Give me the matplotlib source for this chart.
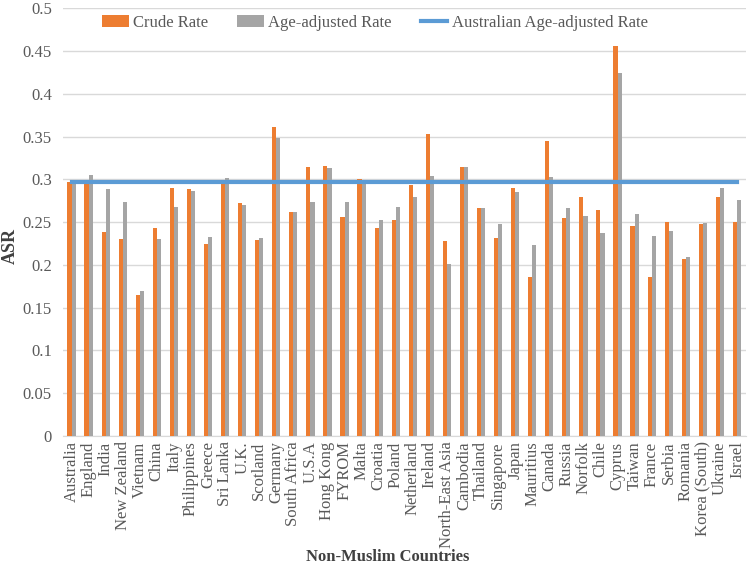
import matplotlib.pyplot as plt
import numpy as np

countries = ["Australia", "England", "India", "New Zealand", "Vietnam", "China", "Italy",
             "Philippines", "Greece", "Sri Lanka", "U.K.", "Scotland", "Germany",
             "South Africa", "U.S.A", "Hong Kong", "FYROM", "Malta", "Croatia", "Poland",
             "Netherland", "Ireland", "North-East Asia", "Cambodia", "Thailand", "Singapore",
             "Japan", "Mauritius", "Canada", "Russia", "Norfolk", "Chile", "Cyprus", "Taiwan",
             "France", "Serbia", "Romania", "Korea (South)", "Ukraine", "Israel"]
crude = [0.297, 0.297, 0.239, 0.230, 0.165, 0.243, 0.290, 0.289, 0.224, 0.297,
         0.272, 0.229, 0.361, 0.262, 0.314, 0.316, 0.256, 0.300, 0.243, 0.252,
         0.294, 0.353, 0.228, 0.315, 0.266, 0.232, 0.290, 0.186, 0.345, 0.255,
         0.280, 0.264, 0.456, 0.245, 0.186, 0.250, 0.207, 0.248, 0.280, 0.250]
adjusted = [0.297, 0.305, 0.289, 0.274, 0.170, 0.230, 0.268, 0.287, 0.233, 0.302,
            0.270, 0.231, 0.349, 0.262, 0.273, 0.313, 0.274, 0.298, 0.253, 0.268,
            0.280, 0.304, 0.201, 0.315, 0.266, 0.248, 0.285, 0.223, 0.303, 0.266,
            0.257, 0.237, 0.424, 0.260, 0.234, 0.240, 0.209, 0.249, 0.290, 0.276]
aus_rate = 0.297

plt.rcParams['font.family'] = ['Liberation Serif', 'DejaVu Serif']

fig = plt.figure(figsize=(7.5, 5.66), dpi=100)
ax = fig.add_axes([0.084, 0.23, 0.91, 0.755])

x = np.arange(len(countries))
w = 0.24
b1 = ax.bar(x - w / 2, crude, w, color='#ED7D31', label='Crude Rate', zorder=3)
b2 = ax.bar(x + w / 2, adjusted, w, color='#A5A5A5', label='Age-adjusted Rate', zorder=3)
l1, = ax.plot(x, [aus_rate] * len(x), color='#5B9BD5', linewidth=3,
              label='Australian Age-adjusted Rate', zorder=4)

ax.set_xlim(-0.5, len(countries) - 0.5)
ax.set_ylim(0, 0.5)
ax.set_yticks(np.arange(0, 0.51, 0.05))
ax.set_yticklabels(['0'] + [f"{v:g}" for v in np.arange(0.05, 0.51, 0.05).round(2)])
ax.set_xticks(x)
ax.set_xticklabels(countries, rotation=90)
ax.tick_params(axis='both', colors='#595959', labelsize=12, length=0)
ax.tick_params(axis='x', pad=4)
ax.tick_params(axis='y', pad=8)
ax.grid(axis='y', color='#D9D9D9', linewidth=1, zorder=0)
for s in ['left', 'right', 'top']:
    ax.spines[s].set_visible(False)
ax.spines['bottom'].set_color('#D9D9D9')

ax.set_ylabel('ASR', fontsize=13, fontweight='bold', color='#404040')
ax.yaxis.set_label_coords(-0.064, 0.445)
ax.set_xlabel('Non-Muslim Countries', fontsize=12, fontweight='bold', color='#404040')
ax.xaxis.set_label_coords(0.476, -0.265)

leg = ax.legend([b1, b2, l1], ['Crude Rate', 'Age-adjusted Rate', 'Australian Age-adjusted Rate'],
                loc='center', ncol=3, frameon=False, fontsize=12,
                bbox_to_anchor=(0.457, 0.967), handlelength=1.6, handletextpad=0.25,
                columnspacing=1.75)
for t in leg.get_texts():
    t.set_color('#595959')

fig.savefig('out.png', dpi=100)
